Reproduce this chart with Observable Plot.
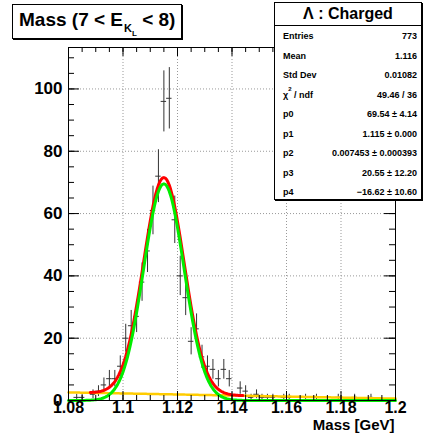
<!DOCTYPE html>
<html><head><meta charset="utf-8">
<script src="https://cdn.jsdelivr.net/npm/d3@7"></script>
<script src="https://cdn.jsdelivr.net/npm/@observablehq/plot@0.6"></script>
<style>
body{margin:0;background:#fff;}
#wrap{position:relative;width:424px;height:437px;font-family:"Liberation Sans",Arial,Helvetica,sans-serif;font-weight:bold;color:#000;}
#title{position:absolute;left:12px;top:4px;width:168px;height:33px;border:1px solid #000;background:#fff;box-shadow:1px 1px 0 #000;}
#title .t{position:absolute;left:6px;top:5px;font-size:19px;white-space:nowrap;line-height:20px;}
#title .k{font-size:11px;position:relative;top:6px;margin-left:1px;}
#title .l{font-size:8px;position:relative;top:4px;}
#stats{position:absolute;left:274px;top:2px;width:146px;height:196px;border:1px solid #000;background:#fff;box-shadow:1px 1px 0 #000;}
#stats .hd{position:absolute;left:0;top:0;width:146px;height:22px;border-bottom:1px solid #000;text-align:center;font-size:16px;line-height:22px;}
#stats .row{position:absolute;left:8px;width:134px;font-size:9px;line-height:10px;height:10px;white-space:nowrap;}
#stats .row .v{position:absolute;right:0;top:0;}
#stats sup{font-size:6px;line-height:0;position:relative;top:-1px;vertical-align:top;}
</style></head>
<body>
<div id="wrap">
  <div id="chart"></div>
  <div id="title"><div class="t">Mass (7 &lt; E<span class="k">K<span class="l">L</span></span> &lt; 8)</div></div>
  <div id="stats"></div>
</div>
<script>
// histogram: bins of 0.002 GeV from 1.08 to 1.20
const binStart = 1.08;
const binWidth = 0.002;
const counts = [0,1,1,0,2,3,5,7,7,11, 20,24,27,38,48,61,72,96,97,58, 40,33,19,23,14,11,10,7,10,7,
                0,4,3,1,2,1,1,1,0,1, 1,0,0,1,0,1,0,0,0,1, 0,0,1,0,0,1,0,0,0,0];
// fit parameters (gaus + pol1)
const fitParams = [69.54, 1.115, 0.007453, 20.55, -16.62];
const fitRange = [1.088, 1.144];
// axes
const xMajor = [1.08, 1.10, 1.12, 1.14, 1.16, 1.18, 1.20];
const xTickLabels = ["1.08", "1.1", "1.12", "1.14", "1.16", "1.18", "1.2"];
const yMajor = [0, 20, 40, 60, 80, 100];
const yTickLabels = ["0", "20", "40", "60", "80", "100"];
const xMinorStep = 0.005;
const yMinorStep = 5;
const xDomain = [1.08, 1.20];
const yDomain = [0, 113.3];
// stats box
const statsTitle = "Λ : Charged";
const statLabels = ["Entries", "Mean", "Std Dev", "χ<sup>2</sup> / ndf", "p0", "p1", "p2", "p3", "p4"];
const statValues = ["773", "1.116", "0.01082", "49.46 / 36", "69.54 ± 4.14", "1.115 ± 0.000", "0.007453 ± 0.000393", "20.55 ± 12.20", "−16.62 ± 10.60"];

const W = 424, H = 437, mL = 68, mR = 29, mT = 47, mB = 37;
const innerW = W - mL - mR, innerH = H - mT - mB;

const points = counts.map((c, i) => ({x: binStart + binWidth * (i + 0.5), n: c})).filter(d => d.n > 0);
const [p0, p1, p2, p3, p4] = fitParams;
const gaus = x => p0 * Math.exp(-0.5 * ((x - p1) / p2) ** 2);
const bkg = x => p3 + p4 * x;
const fullX = d3.range(0, 241).map(i => xDomain[0] + i * 0.0005);
const fitX = fullX.filter(x => x >= fitRange[0] - 1e-9 && x <= fitRange[1] + 1e-9);
const green = fullX.map(x => ({x, y: gaus(x)}));
const red = fitX.map(x => ({x, y: gaus(x) + bkg(x)}));
const orange = fullX.map(x => ({x, y: bkg(x)}));

const xMinor = d3.range(0, 25).map(i => xDomain[0] + i * xMinorStep);
const yMinor = d3.range(0, 23).map(i => i * yMinorStep);

const chart = Plot.plot({
  width: W, height: H,
  marginLeft: mL, marginRight: mR, marginTop: mT, marginBottom: mB,
  style: {fontFamily: "'Liberation Sans', Arial, sans-serif", fontWeight: "bold", background: "#fff", color: "#000"},
  x: {domain: xDomain},
  y: {domain: yDomain},
  marks: [
    Plot.gridX(xMajor, {stroke: "#999", strokeOpacity: 1, strokeDasharray: "1,2"}),
    Plot.gridY(yMajor, {stroke: "#999", strokeOpacity: 1, strokeDasharray: "1,2"}),
    // error bars
    Plot.ruleX(points, {x: "x", y1: d => d.n - Math.sqrt(d.n), y2: d => d.n + Math.sqrt(d.n), stroke: "#333", strokeWidth: 1}),
    Plot.ruleY(points, {y: "n", x1: d => d.x - binWidth / 2, x2: d => d.x + binWidth / 2, stroke: "#333", strokeWidth: 1}),
    Plot.line(orange, {x: "x", y: "y", stroke: "#ffcc00", strokeWidth: 2.5}),
    Plot.line(red, {x: "x", y: "y", stroke: "#ff0000", strokeWidth: 3}),
    Plot.line(green, {x: "x", y: "y", stroke: "#00ee00", strokeWidth: 3}),
    // ticks: bottom / top
    Plot.tickX(xMajor, {x: d => d, insetTop: innerH - 9, stroke: "#000"}),
    Plot.tickX(xMinor, {x: d => d, insetTop: innerH - 5, stroke: "#000"}),
    Plot.tickX(xMajor, {x: d => d, insetBottom: innerH - 9, stroke: "#000"}),
    Plot.tickX(xMinor, {x: d => d, insetBottom: innerH - 5, stroke: "#000"}),
    // ticks: left / right
    Plot.tickY(yMajor, {y: d => d, insetRight: innerW - 11, stroke: "#000"}),
    Plot.tickY(yMinor, {y: d => d, insetRight: innerW - 6, stroke: "#000"}),
    Plot.tickY(yMajor, {y: d => d, insetLeft: innerW - 11, stroke: "#000"}),
    Plot.tickY(yMinor, {y: d => d, insetLeft: innerW - 6, stroke: "#000"}),
    Plot.frame({stroke: "#000"}),
    Plot.axisX(xMajor, {anchor: "bottom", tickSize: 0, tickPadding: 1, fontSize: 16, fontWeight: "bold",
      tickFormat: d => xTickLabels[xMajor.indexOf(d)], label: null}),
    Plot.axisY(yMajor, {anchor: "left", tickSize: 0, tickPadding: 6, fontSize: 17, fontWeight: "bold",
      tickFormat: d => yTickLabels[yMajor.indexOf(d)], label: null}),
    Plot.text(["Mass [GeV]"], {frameAnchor: "bottom-right", dy: 29, dx: -1, textAnchor: "end", fontSize: 15, fontWeight: "bold"})
  ]
});
document.getElementById("chart").appendChild(chart);

// stats box
const stats = document.getElementById("stats");
let html = `<div class="hd">${statsTitle}</div>`;
statLabels.forEach((l, i) => {
  const top = 28 + 19.5 * i;
  html += `<div class="row" style="top:${top}px"><span>${l}</span><span class="v">${statValues[i]}</span></div>`;
});
stats.innerHTML = html;
</script>
</body></html>
